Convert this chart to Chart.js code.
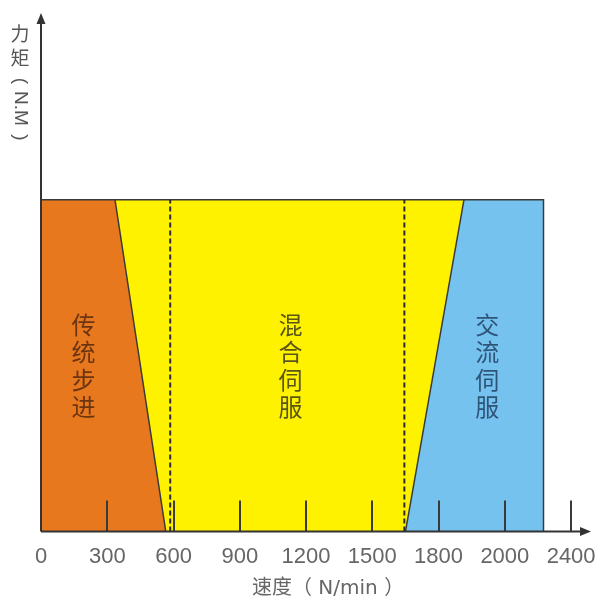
<!DOCTYPE html>
<html><head><meta charset="utf-8">
<script src="https://cdn.jsdelivr.net/npm/chart.js@4"></script>
<style>html,body{margin:0;padding:0;background:#fff}#wrap{width:607px;height:600px}</style>
</head><body><div id="wrap"><canvas id="c"></canvas></div>
<script>
// ---- data ----
const xTickValues = [0, 300, 600, 900, 1200, 1500, 1800, 2100, 2400];
const xTickLabels = ['0', '300', '600', '900', '1200', '1500', '1800', '2000', '2400'];
const steppingX = [0, 335, 565];
const steppingY = [64, 64, 0];
const acServoX = [1650, 1915, 2275, 2275];
const acServoY = [0, 64, 64, 0];
const envelopeX = [0, 2275];
const envelopeY = [64, 64];
const dividerX = [585, 1645];
const dividerTop = 64;
const regionNames = ['传统步进', '混合伺服', '交流伺服'];
const regionCenterX = [192, 1129, 2020];
const regionCenterY = 32;
const xTitle = '速度（ N/min ）';
const yTitleUpright = ['力', '矩'];
const yTitleRotated = ['(', 'N.M', ')'];

const pts = (xs, ys) => xs.map((x, i) => ({x, y: ys[i]}));
const EDGE = '#3a3a3a';

const datasets = [
  ...dividerX.map(x => ({
    data: [{x, y: 0}, {x, y: dividerTop}],
    borderColor: '#2a2a2a', borderWidth: 2, borderDash: [5, 3], fill: false
  })),
  { data: pts(steppingX, steppingY), borderColor: EDGE, borderWidth: 1.5,
    backgroundColor: '#E8781E', fill: 'origin' },
  { data: pts(acServoX, acServoY), borderColor: EDGE, borderWidth: 1.5,
    backgroundColor: '#76C2EF', fill: 'origin' },
  { data: pts(envelopeX, envelopeY), borderColor: EDGE, borderWidth: 1.5,
    backgroundColor: '#FFF200', fill: 'origin' }
];
datasets.forEach(d => { d.showLine = true; d.pointRadius = 0; d.tension = 0; });

const decor = {
  id: 'decor',
  afterDatasetsDraw(chart) {
    const {ctx, chartArea: a, scales: {x, y}} = chart;
    ctx.save();
    // inward tick marks
    ctx.strokeStyle = '#3a3a3a'; ctx.lineWidth = 2;
    xTickValues.forEach(v => {
      if (v === 0) return;
      const px = Math.round(x.getPixelForValue(v));
      ctx.beginPath(); ctx.moveTo(px, a.bottom); ctx.lineTo(px, a.bottom - 31); ctx.stroke();
    });
    // axes with arrows
    ctx.strokeStyle = '#333'; ctx.fillStyle = '#333'; ctx.lineWidth = 2;
    ctx.beginPath(); ctx.moveTo(a.left, a.bottom); ctx.lineTo(a.right - 8, a.bottom); ctx.stroke();
    ctx.beginPath(); ctx.moveTo(a.right, a.bottom); ctx.lineTo(a.right - 11, a.bottom - 4.5);
    ctx.lineTo(a.right - 11, a.bottom + 4.5); ctx.closePath(); ctx.fill();
    ctx.beginPath(); ctx.moveTo(a.left, a.bottom); ctx.lineTo(a.left, a.top + 8); ctx.stroke();
    ctx.beginPath(); ctx.moveTo(a.left, a.top); ctx.lineTo(a.left - 4.5, a.top + 11);
    ctx.lineTo(a.left + 4.5, a.top + 11); ctx.closePath(); ctx.fill();
    // region labels (vertical)
    const colors = ['#6b3512', '#5a5716', '#2e5579'];
    ctx.font = '24px "Noto Sans CJK SC"';
    ctx.textAlign = 'center'; ctx.textBaseline = 'middle';
    const pitch = 27.5;
    regionNames.forEach((name, i) => {
      const cx = x.getPixelForValue(regionCenterX[i]);
      const cy = y.getPixelForValue(regionCenterY);
      const chars = [...name];
      ctx.fillStyle = colors[i];
      chars.forEach((ch, k) => ctx.fillText(ch, cx, cy + (k - (chars.length - 1) / 2) * pitch));
    });
    // x title
    ctx.fillStyle = '#666';
    ctx.font = '20px "DejaVu Sans", "Noto Sans CJK SC"';
    ctx.textAlign = 'left';
    ctx.fillText(xTitle, 252, 589);
    // y title
    ctx.fillStyle = '#555';
    ctx.font = '19px "Noto Sans CJK SC"';
    ctx.textAlign = 'center'; ctx.textBaseline = 'middle';
    yTitleUpright.forEach((ch, k) => ctx.fillText(ch, 20, 34 + k * 24));
    ctx.font = '19px "Liberation Sans"';
    const rotY = [81, 108.5, 137.5];
    yTitleRotated.forEach((s, k) => {
      ctx.save(); ctx.translate(20, rotY[k]); ctx.rotate(Math.PI / 2);
      ctx.fillText(s, 0, 0); ctx.restore();
    });
    ctx.restore();
  }
};

new Chart(document.getElementById('c'), {
  type: 'scatter',
  data: {datasets},
  options: {
    animation: false, responsive: true, maintainAspectRatio: false,
    layout: {padding: {left: 41, right: 16, top: 13, bottom: 18}},
    plugins: {legend: {display: false}, tooltip: {enabled: false}},
    scales: {
      x: {
        type: 'linear', min: 0, max: 2490,
        afterBuildTicks: s => { s.ticks = xTickValues.map(v => ({value: v})); },
        afterFit: s => { s.paddingRight = 0; },
        grid: {display: false, drawTicks: false},
        border: {display: false},
        ticks: {
          callback: (v, i) => xTickLabels[i],
          color: '#666', padding: 12, maxRotation: 0, autoSkip: false,
          font: {size: 22, family: '"Liberation Sans"'}
        }
      },
      y: {min: 0, max: 100, display: false}
    }
  },
  plugins: [decor]
});
</script></body></html>
